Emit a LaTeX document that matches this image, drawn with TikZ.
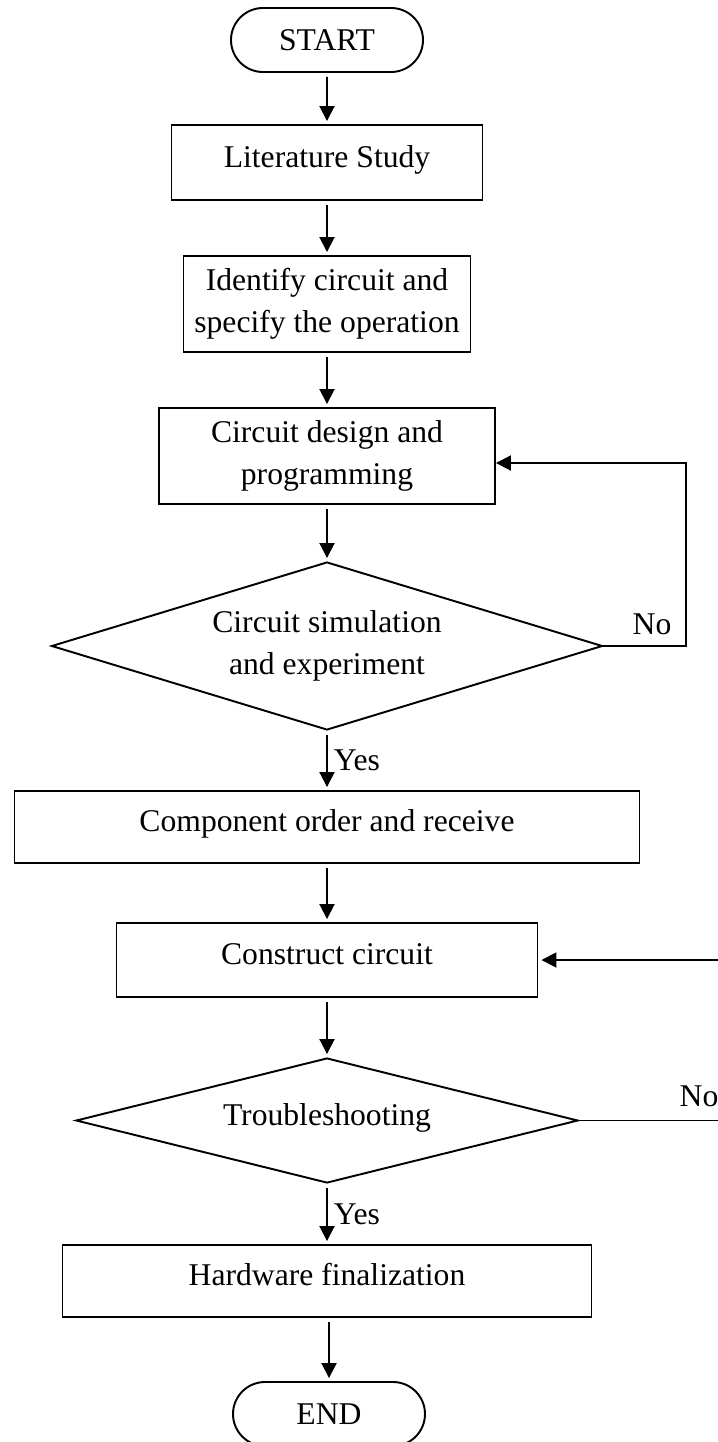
\documentclass[tikz,border=0pt]{standalone}
\usepackage{fontspec}
\setmainfont{Liberation Serif}
\usetikzlibrary{arrows.meta,shapes.geometric,shapes.misc}

\begin{document}
\begin{tikzpicture}[>={Triangle[length=0.30cm,width=0.30cm]}, line width=1.1pt,
  font=\fontsize{18}{23.7}\selectfont,
  procbox/.style={draw, rectangle, align=center, inner sep=0pt},
  onerow/.style={text height=0.46cm, text depth=0.28cm},
  termbox/.style={draw, rounded rectangle, minimum width=3.84cm, minimum height=1.28cm, inner sep=0pt},
  decide/.style={draw, diamond, align=center, inner sep=0pt},
  flow/.style={->, shorten <=0.08cm, shorten >=0.06cm}]
  \useasboundingbox (0,0) rectangle (14.36,-28.84);

  % start / end terminals and process boxes down the middle
  \node[termbox] (start) at (6.54,-0.80) {START};
  \node[procbox, onerow, minimum width=6.22cm, minimum height=1.50cm] (lit) at (6.54,-3.25) {Literature Study};
  \node[procbox, minimum width=5.74cm, minimum height=1.92cm] (ident) at (6.54,-6.08) {Identify circuit and\\specify the operation};
  \node[procbox, minimum width=6.72cm, minimum height=1.92cm] (design) at (6.54,-9.12) {Circuit design and\\programming};
  \node[decide, aspect=3.3, minimum width=11.02cm, minimum height=3.36cm] (sim) at (6.54,-12.92) {Circuit simulation\\and experiment};
  \node[procbox, onerow, minimum width=12.50cm, minimum height=1.44cm] (comp) at (6.54,-16.54) {Component order and receive};
  \node[procbox, onerow, minimum width=8.42cm, minimum height=1.48cm] (constr) at (6.54,-19.20) {Construct circuit};
  \node[decide, onerow, aspect=4, minimum width=10.04cm, minimum height=2.50cm] (trouble) at (6.54,-22.41) {Troubleshooting};
  \node[procbox, onerow, minimum width=10.58cm, minimum height=1.44cm] (hw) at (6.54,-25.62) {Hardware finalization};
  \node[termbox] (stop) at (6.58,-28.28) {END};

  % main flow
  \draw[flow] (start) -- (lit);
  \draw[flow] (lit) -- (ident);
  \draw[flow] (ident) -- (design);
  \draw[flow] (design) -- (sim);
  \draw[flow] (sim) -- node[right] {Yes} (comp);
  \draw[flow] (comp) -- (constr);
  \draw[flow] (constr) -- (trouble);
  \draw[flow] (trouble) -- node[right] {Yes} (hw);
  \draw[flow] (hw.south -| stop.north) -- (stop.north);

  % "No" feedback loops
  \coordinate (simno) at (13.72,-12.92);
  \draw[flow, shorten <=0pt, shorten >=0pt] (sim.east) -- (simno) |- ([yshift=-0.14cm]design.east);
  \node (nosim) at (13.04,-12.48) {No};

  \coordinate (troubleno) at (14.46,-22.41);
  \draw[flow, shorten <=0pt] (trouble.east) -- (troubleno) |- (constr.east);
  \node (notrouble) at (13.98,-21.92) {No};
\end{tikzpicture}
\end{document}
